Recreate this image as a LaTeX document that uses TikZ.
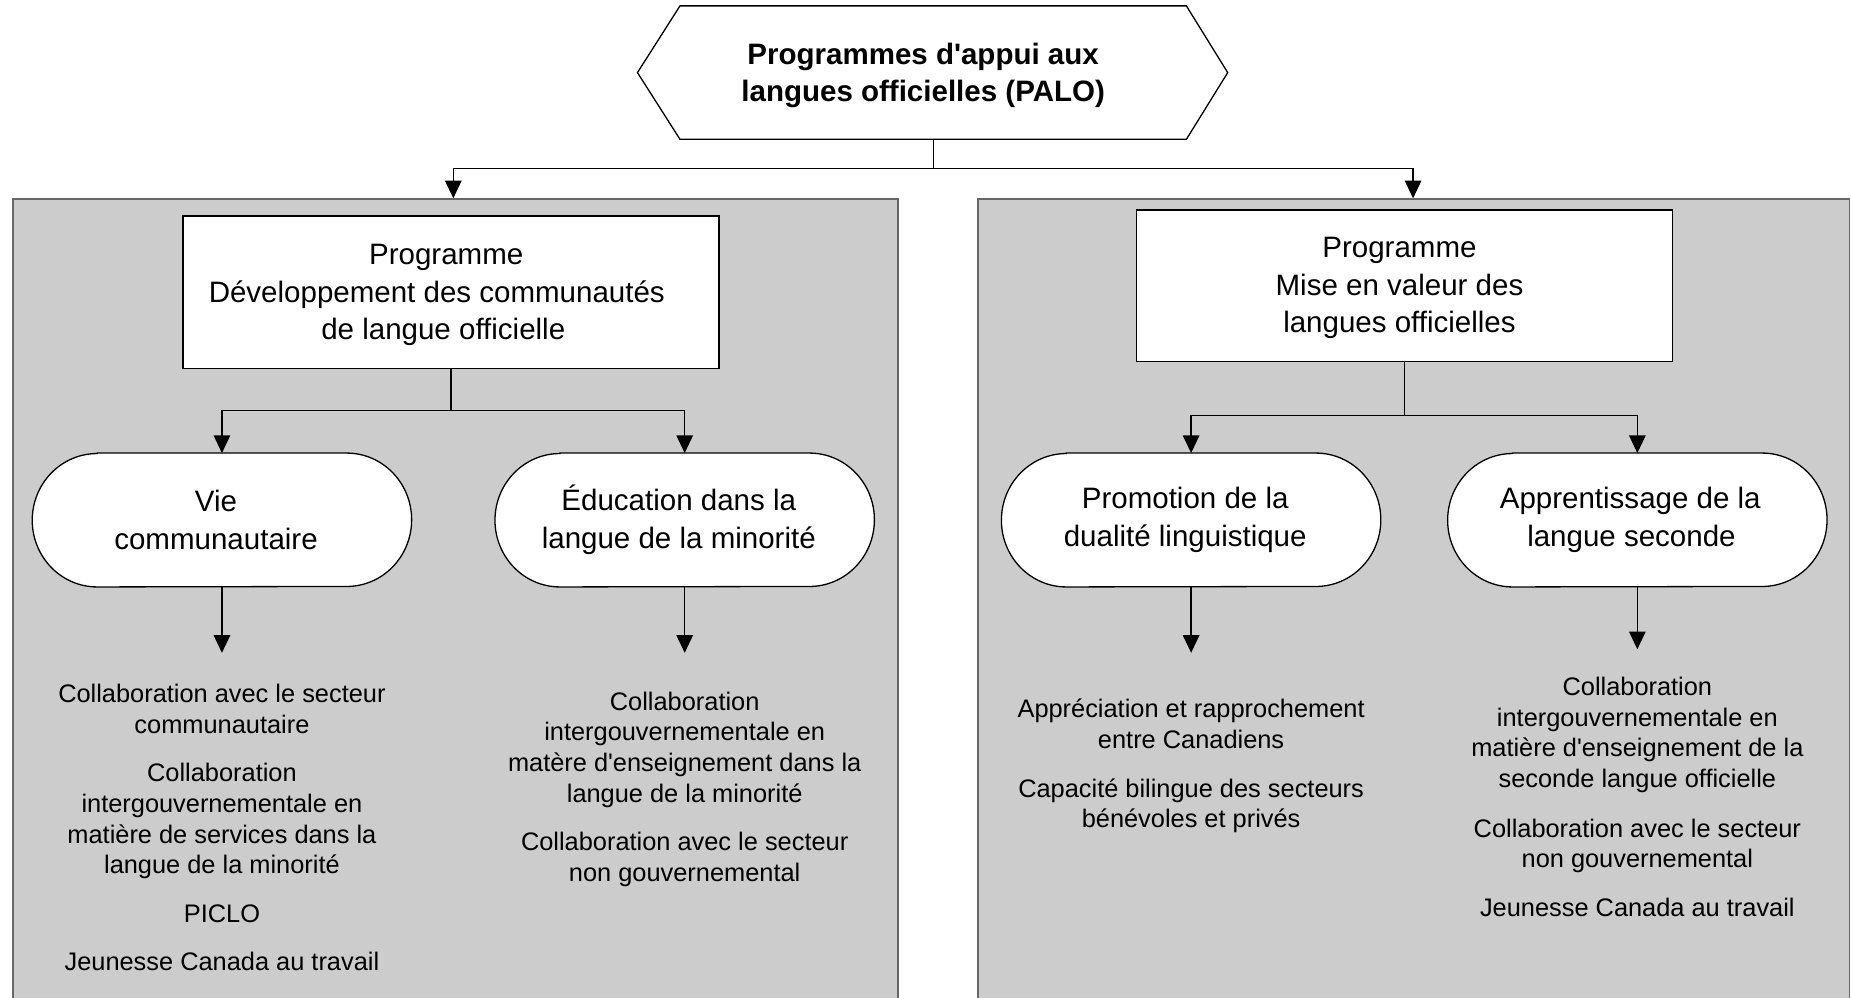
\documentclass[tikz,border=0pt]{standalone}
\usepackage{fontspec}
\setmainfont{Liberation Sans}
\usetikzlibrary{arrows.meta}
\definecolor{panelgray}{HTML}{CCCCCC}
\definecolor{panelline}{HTML}{666666}
\pgfdeclarelayer{bg}
\pgfdeclarelayer{mid}
\pgfsetlayers{bg,mid,main}
\newcommand{\trail}[1]{\rule{#1}{0pt}}
\begin{document}
\begin{tikzpicture}[x=1pt,y=1pt,
  conn/.style={line width=1.1pt},
  arr/.style={conn,-{Triangle[width=14pt,length=15pt]}},
  box/.style={draw,fill=white,line width=1.1pt,minimum width=454pt,minimum height=129pt,align=center,inner sep=0pt,font=\fontsize{25}{32}\selectfont},
  pill/.style={minimum width=321pt,minimum height=113pt,align=center,inner sep=0pt,font=\fontsize{25}{32}\selectfont},
  listtext/.style={align=center,inner sep=0pt,font=\fontsize{21.5}{26}\selectfont},
  panel/.style={fill=panelgray,draw=panelline,line width=1.5pt,inner sep=0pt,anchor=north west,minimum height=700pt},
  pillshape/.style={conn,fill=white}]
\useasboundingbox (0,0) rectangle (1568,-845);

% panels
\begin{pgfonlayer}{bg}
\node[panel,minimum width=750pt] (lp) at (10,-168) {};
\node[panel,minimum width=738pt] (rp) at (828,-168) {};
\end{pgfonlayer}

% title
\node[font=\bfseries\fontsize{25}{31}\selectfont,align=center,inner sep=0pt] (title) at (782,-64) {Programmes d\textquotesingle appui aux\\[0pt]langues officielles (PALO)};
\coordinate (hnw) at (576,-5);
\coordinate (hne) at (1005,-5);
\coordinate (he) at (1040,-61.5);
\coordinate (hse) at (1005,-118);
\coordinate (hsw) at (576,-118);
\coordinate (hw) at (540,-61.5);
\draw[conn] (hnw) -- (hne) -- (he) -- (hse) -- (hsw) -- (hw) -- cycle;

\coordinate (hb) at (790.5,-118);
\coordinate (tj) at (790.5,-143);
\coordinate (la) at (384,-168);
\coordinate (ra) at (1197,-168);
\draw[conn] (hb) -- (tj);
\draw[arr] (tj) -| (la);
\draw[arr] (tj) -| (ra);

% program boxes
\node[box] (lbox) at (382,-247.5) {};
\node[font=\fontsize{25}{32}\selectfont,align=center,inner sep=0pt] (ltext) at (382,-250) {Programme\trail{8pt}\\Développement des communautés\trail{24pt}\\de langue officielle\trail{13pt}};
\node[box,minimum height=128pt] (rbox) at (1190,-242) {};
\node[font=\fontsize{25}{32}\selectfont,align=center,inner sep=0pt] (rtext) at (1190,-244) {Programme\trail{9pt}\\Mise en valeur des\trail{9pt}\\langues officielles\trail{9pt}};

% pills
\node[pill] (p1) at (188,-440.5) {Vie\trail{10pt}\\communautaire\trail{10pt}};
\node[pill] (p2) at (580,-440.5) {Éducation dans la\trail{10pt}\\langue de la minorité\trail{10pt}};
\node[pill] (p3) at (1009,-440.5) {Promotion de la\trail{10pt}\\dualité linguistique\trail{10pt}};
\node[pill] (p4) at (1387,-440.5) {Apprentissage de la\trail{12pt}\\langue seconde\trail{10pt}};

\begin{pgfonlayer}{mid}
\foreach \n in {p1,p2,p3,p4}{
  \draw[pillshape] ([xshift=55pt]\n.north west) -- ([xshift=-55pt]\n.north east)
    arc[start angle=90,end angle=-90,x radius=55pt,y radius=56.5pt]
    -- ([xshift=55pt]\n.south west)
    arc[start angle=270,end angle=90,x radius=55pt,y radius=56.5pt] -- cycle;
}
\end{pgfonlayer}

\coordinate (lj) at (382,-348);
\coordinate (rj) at (1190,-352);
\draw[conn] (lbox.south) -- (lj);
\draw[arr] (lj) -| (p1.north);
\draw[arr] (lj) -| (p2.north);
\draw[conn] (rbox.south) -- (rj);
\draw[arr] (rj) -| (p3.north);
\draw[arr] (rj) -| (p4.north);

% arrows to lists
\coordinate (e1) at (188,-553);
\coordinate (e2) at (580,-553);
\coordinate (e3) at (1009,-553);
\coordinate (e4) at (1387,-550);
\draw[arr] (p1.south) -- (e1);
\draw[arr] (p2.south) -- (e2);
\draw[arr] (p3.south) -- (e3);
\draw[arr] (p4.south) -- (e4);

% lists
\node[listtext] (t1) at (188,-701) {Collaboration avec le secteur\\communautaire\\[15pt]Collaboration\\intergouvernementale en\\matière de services dans la\\langue de la minorité\\[15pt]PICLO\\[15pt]Jeunesse Canada au travail};
\node[listtext] (t2) at (580,-668.5) {Collaboration\\intergouvernementale en\\matère d\textquotesingle enseignement dans la\\langue de la minorité\\[15pt]Collaboration avec le secteur\\non gouvernemental};
\node[listtext] (t3) at (1009,-649) {Appréciation et rapprochement\\entre Canadiens\\[15pt]Capacité bilingue des secteurs\\bénévoles et privés};
\node[listtext] (t4) at (1387,-675) {Collaboration\\intergouvernementale en\\matière d\textquotesingle enseignement de la\\seconde langue officielle\\[16pt]Collaboration avec le secteur\\non gouvernemental\\[15pt]Jeunesse Canada au travail};
\end{tikzpicture}
\end{document}
